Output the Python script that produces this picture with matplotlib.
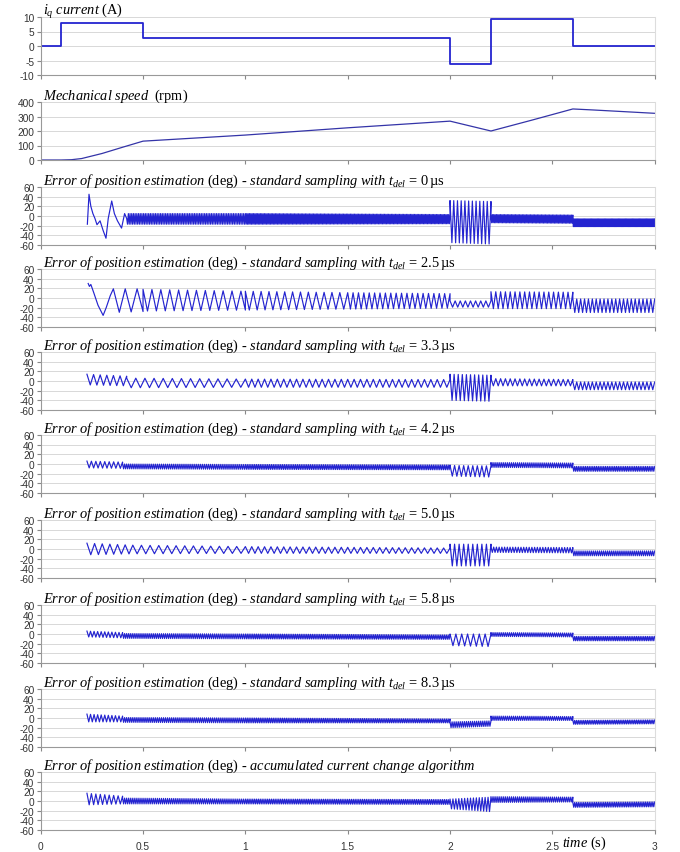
import numpy as np
import matplotlib
matplotlib.use("Agg")
import matplotlib.pyplot as plt
from matplotlib.transforms import offset_copy

# ---------------- data ----------------
time_ticks = [0, 0.5, 1, 1.5, 2, 2.5, 3]
time_tick_labels = ["0", "0.5", "1", "1.5", "2", "2.5", "3"]

iq_t = [0.0, 0.1, 0.1, 0.5, 0.5, 2.0, 2.0, 2.2, 2.2, 2.6, 2.6, 3.0]
iq_v = [0.0, 0.0, 8.1, 8.1, 2.9, 2.9, -6.3, -6.3, 9.2, 9.2, 0.0, 0.0]
iq_ticks = [10, 5, 0, -5, -10]
iq_tick_labels = ["10", "5", "0", "-5", "-10"]

speed_t = [0.0, 0.1, 0.15, 0.2, 0.3, 0.4, 0.5, 1.0, 1.5, 2.0, 2.2, 2.4, 2.6, 2.7, 3.0]
speed_v = [0, 0, 2, 10, 45, 88, 130, 172, 222, 268, 200, 275, 352, 345, 322]
speed_ticks = [400, 300, 200, 100, 0]
speed_tick_labels = ["400", "300", "200", "100", "0"]

err_ticks = [60, 40, 20, 0, -20, -40, -60]
err_tick_labels = ["60", "40", "20", "0", "-20", "-40", "-60"]

# start-up transients (time, deg)
p0_start_t = [0.228, 0.236, 0.245, 0.255, 0.265, 0.275, 0.29, 0.305, 0.319, 0.33, 0.347, 0.36, 0.375, 0.395, 0.41, 0.42]
p0_start_v = [-17, 45, 20, 5, -5, -18, -10, -30, -46, -5, 31, 5, -10, -25, 5, -5]
p25_start_t = [0.232, 0.238, 0.245, 0.26, 0.28, 0.305, 0.32, 0.34, 0.355]
p25_start_v = [30, 24, 28, 10, -15, -36, -20, 5, 19]

# oscillation segments: [t0, t1, upper0, upper1, lower0, lower1, cycles]
p0_seg = [[0.42, 1.0, 5, 5, -17, -17, 70],
          [1.0, 2.0, 5, 3, -17, -16, 150],
          [2.0, 2.2, 32, 30, -55, -58, 11],
          [2.2, 2.6, 3, 2, -14, -15, 60],
          [2.6, 3.0, -6, -6, -22, -22, 70]]
p25_seg = [[0.355, 0.5, 19, 19, -30, -28, 2.5],
           [0.5, 1.0, 18, 14, -27, -25, 11.5],
           [1.0, 1.5, 14, 11, -25, -23, 13],
           [1.5, 2.0, 11, 9, -23, -21, 19],
           [2.0, 2.2, -6, -6, -19, -19, 8],
           [2.2, 2.6, 13, 12, -22, -22, 17],
           [2.6, 3.0, -2, -2, -30, -30, 21]]
p33_seg = [[0.226, 0.42, 14, 10, -8, -10, 6],
           [0.42, 1.0, 6, 4, -14, -13, 13],
           [1.0, 2.0, 4, 3, -13, -13, 32],
           [2.0, 2.2, 14, 12, -40, -42, 10],
           [2.2, 2.6, 5, 3, -10, -10, 17],
           [2.6, 3.0, -2, -2, -18, -18, 21]]
p42_seg = [[0.226, 0.4, 6, 4, -8, -9, 8],
           [0.4, 1.0, 0, -1, -10, -11, 60],
           [1.0, 2.0, -1, -2, -11, -12, 110],
           [2.0, 2.2, -3, -4, -25, -27, 9],
           [2.2, 2.6, 3, 2, -7, -8, 40],
           [2.6, 3.0, -5, -5, -15, -15, 45]]
p50_seg = [[0.226, 0.45, 12, 8, -12, -10, 6],
           [0.45, 1.0, 8, 5, -10, -9, 13],
           [1.0, 2.0, 5, 2, -9, -9, 32],
           [2.0, 2.2, 10, 10, -35, -35, 9],
           [2.2, 2.6, 4, 3, -7, -8, 30],
           [2.6, 3.0, -4, -4, -14, -14, 40]]
p58_seg = [[0.226, 0.4, 6, 3, -6, -8, 10],
           [0.4, 1.0, 1, 0, -9, -10, 60],
           [1.0, 2.0, 0, -2, -10, -11, 110],
           [2.0, 2.2, 0, 0, -24, -26, 7],
           [2.2, 2.6, 3, 2, -5, -6, 40],
           [2.6, 3.0, -5, -5, -14, -14, 45]]
p83_seg = [[0.226, 0.4, 8, 4, -8, -8, 10],
           [0.4, 1.0, 1, 0, -9, -10, 60],
           [1.0, 2.0, 0, -2, -10, -10, 110],
           [2.0, 2.2, -8, -6, -20, -17, 20],
           [2.2, 2.6, 4, 3, -5, -5, 40],
           [2.6, 3.0, -5, -4, -13, -12, 45]]
pacc_seg = [[0.226, 0.4, 16, 10, -8, -6, 8],
            [0.4, 1.0, 6, 4, -6, -6, 60],
            [1.0, 2.0, 4, 3, -6, -7, 110],
            [2.0, 2.2, 4, 8, -16, -22, 14],
            [2.2, 2.6, 9, 8, -3, -2, 40],
            [2.6, 3.0, -3, -2, -13, -12, 45]]

panel_labels = ["0", "2.5", "3.3", "4.2", "5.0", "5.8", "8.3"]

# ---------------- styling ----------------
plt.rcParams["mathtext.fontset"] = "custom"
plt.rcParams["mathtext.rm"] = "Liberation Serif"
plt.rcParams["mathtext.it"] = "Liberation Serif:italic"
plt.rcParams["mathtext.bf"] = "Liberation Serif:bold"
plt.rcParams["font.family"] = ["Liberation Sans", "DejaVu Sans"]

W, H = 680, 853
fig = plt.figure(figsize=(W / 100, H / 100), dpi=100)
left_px, right_px = 40.7, 654.7
tops = [18, 103, 188, 270, 353, 436, 521, 606, 690, 773]
ph = 58
BLUE = "#2424d0"
TFS = 10.4


def make_ax(top):
    ax = fig.add_axes([left_px / W, 1 - (top + ph) / H, (right_px - left_px) / W, ph / H])
    ax.set_xlim(0, 3)
    ax.set_xticks(time_ticks)
    ax.tick_params(axis="x", direction="out", length=3, color="#888888", labelbottom=False)
    ax.tick_params(axis="y", direction="out", length=3, color="#888888",
                   labelsize=7.3, labelcolor="#333333", pad=1.5)
    ax.spines["top"].set_visible(False)
    ax.spines["left"].set_color("#999999")
    ax.spines["bottom"].set_color("#999999")
    ax.spines["right"].set_color("#dddddd")
    for sp in ax.spines.values():
        sp.set_linewidth(0.8)
    ax.grid(axis="y", color="#d8d8d8", linewidth=0.7)
    ax.set_axisbelow(True)
    return ax


def title(ax, s):
    tr = offset_copy(ax.transAxes, fig=fig, x=0, y=3.5, units="dots")
    ax.text(0.004, 1.0, s, transform=tr, ha="left", va="baseline", fontsize=TFS)


def zigzag(seg):
    ts, vs = [], []
    for t0, t1, h0, h1, l0, l1, cyc in seg:
        n = max(int(round(2 * cyc)), 1)
        tt = np.linspace(t0, t1, n + 1)
        f = (tt - t0) / (t1 - t0)
        hi = h0 + (h1 - h0) * f
        lo = l0 + (l1 - l0) * f
        vv = np.where(np.arange(n + 1) % 2 == 0, hi, lo)
        ts.extend(tt.tolist())
        vs.extend(vv.tolist())
    return ts, vs


# panel 1: iq current
ax = make_ax(tops[0])
ax.plot(iq_t, iq_v, color=BLUE, lw=1.3)
ax.set_ylim(-10, 10)
ax.set_yticks(iq_ticks)
ax.set_yticklabels(iq_tick_labels)
title(ax, r"$i_q\ \mathit{current}\ \mathrm{(A)}$")

# panel 2: speed
ax = make_ax(tops[1])
ax.plot(speed_t, speed_v, color="#3434a8", lw=0.9)
ax.set_ylim(0, 400)
ax.set_yticks(speed_ticks)
ax.set_yticklabels(speed_tick_labels)
title(ax, r"$\mathit{Mechanical\ speed}\ \ \mathrm{(rpm)}$")

segs = [p0_seg, p25_seg, p33_seg, p42_seg, p50_seg, p58_seg, p83_seg, pacc_seg]
starts = [(p0_start_t, p0_start_v), (p25_start_t, p25_start_v)] + [None] * 6
base = r"$\mathit{Error\ of\ position\ estimation}\ \mathrm{(deg)}\text{ - }"
for i, seg in enumerate(segs):
    ax = make_ax(tops[2 + i])
    ts, vs = zigzag(seg)
    if starts[i] is not None:
        ts = list(starts[i][0]) + ts[1:]
        vs = list(starts[i][1]) + vs[1:]
    ax.plot(ts, vs, color=BLUE, lw=0.85)
    ax.set_ylim(-60, 60)
    ax.set_yticks(err_ticks)
    ax.set_yticklabels(err_tick_labels)
    if i < 7:
        title(ax, base + r"\mathit{standard\ sampling\ with}\ t_{del}\text{ = " + panel_labels[i] + r"}\,\mathrm{µs}$")
    else:
        title(ax, base + r"\mathit{accumulated\ current\ change\ algorithm}$")
    if i == 7:
        ax.tick_params(axis="x", labelbottom=True, labelsize=7.3, labelcolor="#333333", pad=5)
        ax.set_xticklabels(time_tick_labels)
        tr = offset_copy(ax.transAxes, fig=fig, x=0, y=-12, units="dots")
        ax.text(0.885, 0.0, r"$\mathit{time}\ \mathrm{(s)}$", transform=tr,
                ha="center", va="center", fontsize=TFS)

fig.savefig("out.png", dpi=100)
